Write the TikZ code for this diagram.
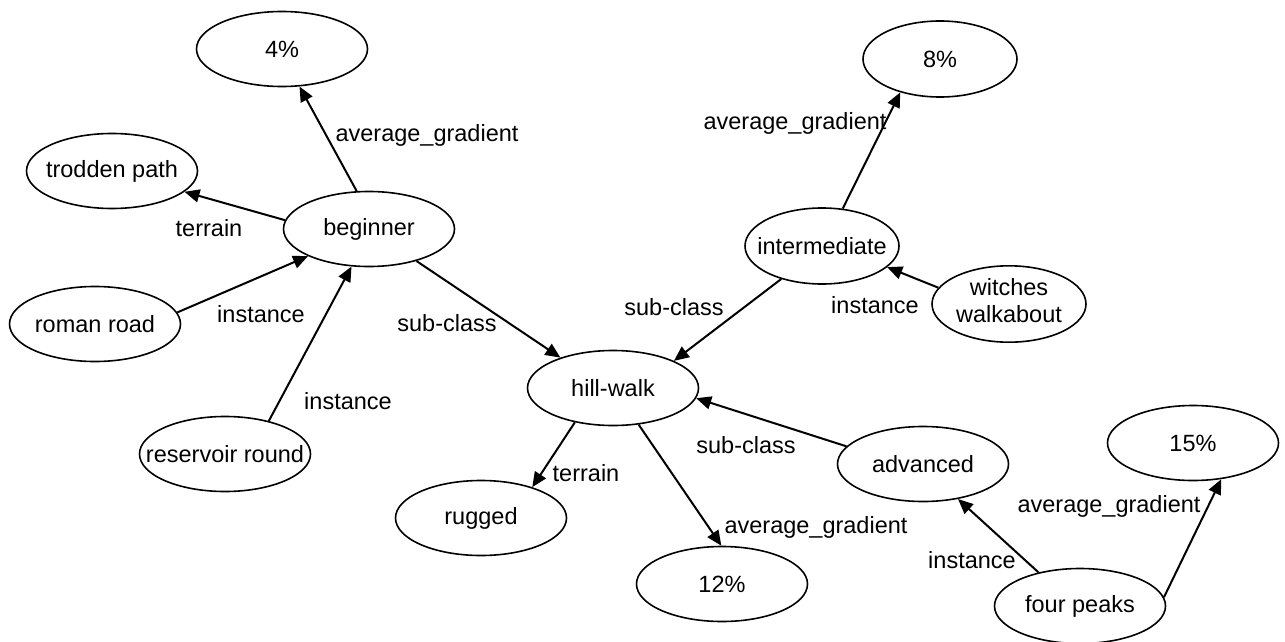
\documentclass[tikz,border=0pt]{standalone}
\usepackage{fontspec}
\setmainfont{Liberation Sans}
\usetikzlibrary{shapes.geometric,arrows.meta}
\newcommand\zw[1]{\makebox[0pt][c]{#1}}
\begin{document}
\begin{tikzpicture}[x=1pt,y=-1pt,
  every node/.style={font=\fontsize{23.5}{27}\selectfont},
  ell/.style={ellipse,draw,line width=1.6pt,inner sep=0pt,minimum width=171pt,minimum height=75pt},
  ells/.style={ell,minimum width=154pt,minimum height=76pt},
  lab/.style={inner sep=0pt},
  conn/.style={line width=2pt,-{Triangle[length=15pt,width=13pt]}}]
\useasboundingbox (0,0) rectangle (1285,642);
% nodes
\node[ell] (p4) at (282,49) {\zw{4\%}};
\node[ell] (trodden) at (112,171) {\zw{trodden path}};
\node[ell] (beginner) at (369,229) {\zw{beginner}};
\node[ell] (roman) at (95,324) {\zw{roman road}};
\node[ell] (reservoir) at (225,454) {\zw{reservoir round}};
\node[ell] (hill) at (613,388) {\zw{hill-walk}};
\node[ell] (rugged) at (481,518) {\zw{rugged}};
\node[ell] (p12) at (722,584) {\zw{12\%}};
\node[ells] (p8) at (940,59) {\zw{8\%}};
\node[ells] (inter) at (822,246) {\zw{intermediate}};
\node[ells] (witches) at (1009,304) {\zw{\raisebox{-2pt}{\begin{tabular}{@{}c@{}}witches\\walkabout\end{tabular}}}};
\node[ell] (advanced) at (923,464) {\zw{advanced}};
\node[ell] (p15) at (1193,443) {\zw{15\%}};
\node[ell] (four) at (1080,606) {\zw{four peaks}};
% connectors
\draw[conn] (beginner.108) -- (p4.295);
\draw[conn] (beginner.174.6) -- (trodden.344);
\draw[conn] (roman.8.7) -- (beginner.204);
\draw[conn] (reservoir.37.3) -- (beginner.245);
\draw[conn] (beginner.326) -- (hill.150.6);
\draw[conn] (inter.219.4) -- (hill.24.6);
\draw[conn] (inter.61.6) -- (p8.220.3);
\draw[conn] (witches.167.4) -- (inter.342);
\draw[conn] (advanced.167.8) -- (hill.353.4);
\draw[conn] (hill.222.6) -- (rugged.31.5);
\draw[conn] (hill.305.5) -- (p12.91.5);
\draw[conn] (four.141.8) -- (advanced.315.7);
\draw[conn] (four.6) -- (p15.308.5);
% labels
\node[lab] (l1) at (427,135) {average\_gradient};
\node[lab] (l2) at (209,228) {terrain};
\node[lab] (l3) at (261,314) {instance};
\node[lab] (l4) at (348,401) {instance};
\node[lab] (l5) at (447,323) {sub-class};
\node[lab] (l6) at (674,307) {sub-class};
\node[lab] (l7) at (746,445) {sub-class};
\node[lab] (l8) at (586,473) {terrain};
\node[lab] (l9) at (816,527) {average\_gradient};
\node[lab] (l10) at (795,123) {average\_gradient};
\node[lab] (l11) at (875,305) {instance};
\node[lab] (l12) at (1109,506) {average\_gradient};
\node[lab] (l13) at (972,560) {instance};
\end{tikzpicture}
\end{document}
